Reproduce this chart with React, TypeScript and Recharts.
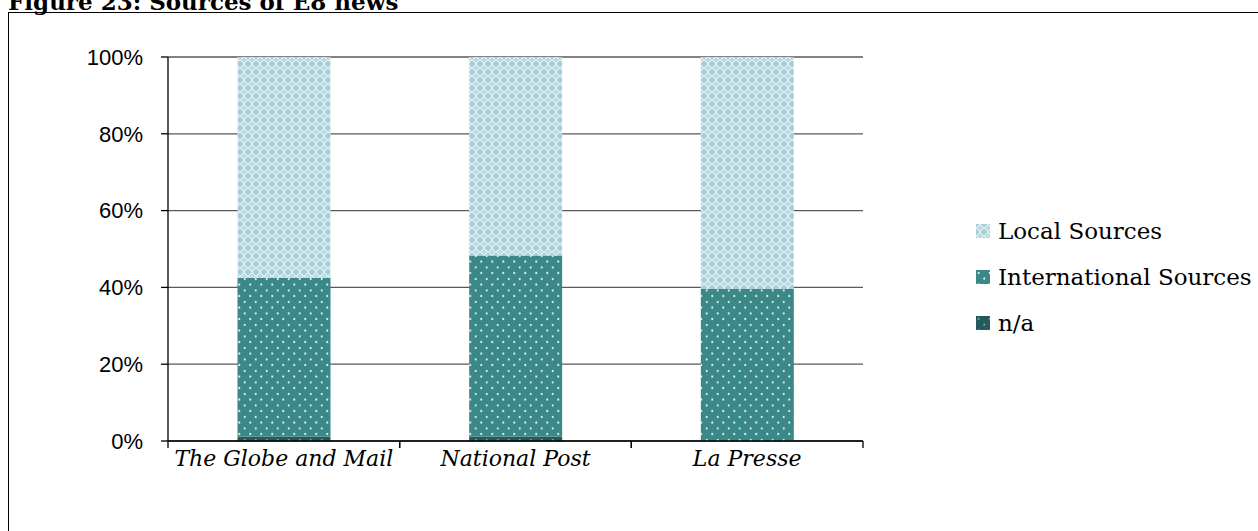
import { BarChart, Bar, XAxis, YAxis, CartesianGrid, Legend } from "recharts";

// share of E8 news items by source, percent of each paper's total
const papers = ["The Globe and Mail", "National Post", "La Presse"];
const naShare = [1.2, 1.2, 0];
const internationalShare = [41.3, 47.1, 39.6];
const localShare = [57.5, 51.7, 60.4];
const yTicks = [0, 20, 40, 60, 80, 100];

const data = papers.map((paper, i) => ({
  paper,
  na: naShare[i],
  international: internationalShare[i],
  local: localShare[i],
}));

const legendOrder = ["local", "international", "na"];
const patternFor: Record<string, string> = {
  local: "url(#patLocal)",
  international: "url(#patIntl)",
  na: "url(#patNa)",
};

const TICK_SIZE = 7;
const TICK_GAP = 2;

function PaperTick(props: any) {
  const { x, y, payload } = props;
  const half = payload?.offset ?? 0;
  const axisY = y - TICK_SIZE - TICK_GAP;
  return (
    <g>
      <line x1={x - half} x2={x - half} y1={axisY} y2={axisY + TICK_SIZE} stroke="#000" strokeWidth={1.3} />
      <line x1={x + half} x2={x + half} y1={axisY} y2={axisY + TICK_SIZE} stroke="#000" strokeWidth={1.3} />
      <text
        x={x}
        y={y}
        dy="0.71em"
        textAnchor="middle"
        fill="#000"
        fontFamily="'DejaVu Serif', serif"
        fontStyle="italic"
        fontSize={22}
      >
        {payload.value}
      </text>
    </g>
  );
}

function SourceLegend({ payload }: any) {
  const items = [...(payload || [])].sort(
    (a: any, b: any) => legendOrder.indexOf(a.dataKey) - legendOrder.indexOf(b.dataKey)
  );
  return (
    <div>
      {items.map((entry: any) => (
        <div key={entry.dataKey} style={{ display: "flex", alignItems: "center", height: 46 }}>
          <svg width={14} height={14} style={{ marginRight: 8 }}>
            <rect width={14} height={14} fill={patternFor[entry.dataKey]} />
          </svg>
          <span style={{ fontFamily: "'DejaVu Serif', serif", fontSize: 23, color: "#000" }}>{entry.value}</span>
        </div>
      ))}
    </div>
  );
}

export default function App() {
  return (
    <div style={{ position: "absolute", left: 0, top: 0, width: 1258, height: 531, overflow: "hidden", background: "#fff" }}>
      <div
        style={{
          position: "absolute",
          left: 8,
          top: -10,
          fontFamily: "'DejaVu Serif', serif",
          fontWeight: "bold",
          fontSize: 23,
          lineHeight: "23px",
          whiteSpace: "nowrap",
        }}
      >
        Figure 23: Sources of E8 news
      </div>
      <div
        style={{
          position: "absolute",
          left: 8,
          top: 12,
          width: 1300,
          height: 600,
          border: "1.3px solid #000",
        }}
      />
      <div style={{ position: "absolute", left: 0, top: 0 }}>
        <BarChart
          width={1258}
          height={531}
          data={data}
          margin={{ top: 57, right: 395, bottom: 50, left: 8 }}
          barCategoryGap="30%"
        >
          <defs>
            <pattern id="patLocal" width={8} height={8} patternUnits="userSpaceOnUse">
              <rect width={8} height={8} fill="#a6ced8" />
              <path d="M4 0.5 L7.5 4 L4 7.5 L0.5 4 Z" fill="none" stroke="#ffffff" strokeOpacity={0.75} strokeWidth={1.2} />
              <circle cx={4} cy={4} r={0.9} fill="#ffffff" fillOpacity={0.6} />
            </pattern>
            <pattern id="patIntl" width={11} height={11.5} patternUnits="userSpaceOnUse">
              <rect width={11} height={11.5} fill="#3b8889" />
              <circle cx={2.75} cy={2.9} r={1.1} fill="#ffffff" fillOpacity={0.9} />
              <circle cx={8.25} cy={8.6} r={1.1} fill="#ffffff" fillOpacity={0.9} />
            </pattern>
            <pattern id="patNa" width={11} height={11.5} patternUnits="userSpaceOnUse">
              <rect width={11} height={11.5} fill="#245a5c" />
              <circle cx={2.75} cy={2.9} r={1} fill="#ffffff" fillOpacity={0.5} />
              <circle cx={8.25} cy={8.6} r={1} fill="#ffffff" fillOpacity={0.5} />
            </pattern>
          </defs>
          <CartesianGrid vertical={false} stroke="#595959" strokeWidth={1.3} />
          <XAxis
            dataKey="paper"
            tick={<PaperTick />}
            tickLine={false}
            tickSize={TICK_SIZE}
            tickMargin={TICK_GAP}
            axisLine={{ stroke: "#000", strokeWidth: 1.3 }}
            height={40}
            interval={0}
          />
          <YAxis
            domain={[0, 100]}
            ticks={yTicks}
            tickFormatter={(v) => `${v}%`}
            width={160}
            tickSize={TICK_SIZE}
            tickMargin={18}
            tickLine={{ stroke: "#000", strokeWidth: 1.3 }}
            axisLine={{ stroke: "#000", strokeWidth: 1.3 }}
            tick={{ fill: "#000", fontSize: 22, fontFamily: "'Liberation Sans', Arial, sans-serif" }}
          />
          <Legend
            layout="vertical"
            verticalAlign="middle"
            align="center"
            content={<SourceLegend />}
            wrapperStyle={{ position: "absolute", left: 976, top: 208, width: 280 }}
          />
          <Bar dataKey="na" name="n/a" stackId="s" fill={patternFor.na} isAnimationActive={false} />
          <Bar dataKey="international" name="International Sources" stackId="s" fill={patternFor.international} isAnimationActive={false} />
          <Bar dataKey="local" name="Local Sources" stackId="s" fill={patternFor.local} isAnimationActive={false} />
        </BarChart>
      </div>
    </div>
  );
}
